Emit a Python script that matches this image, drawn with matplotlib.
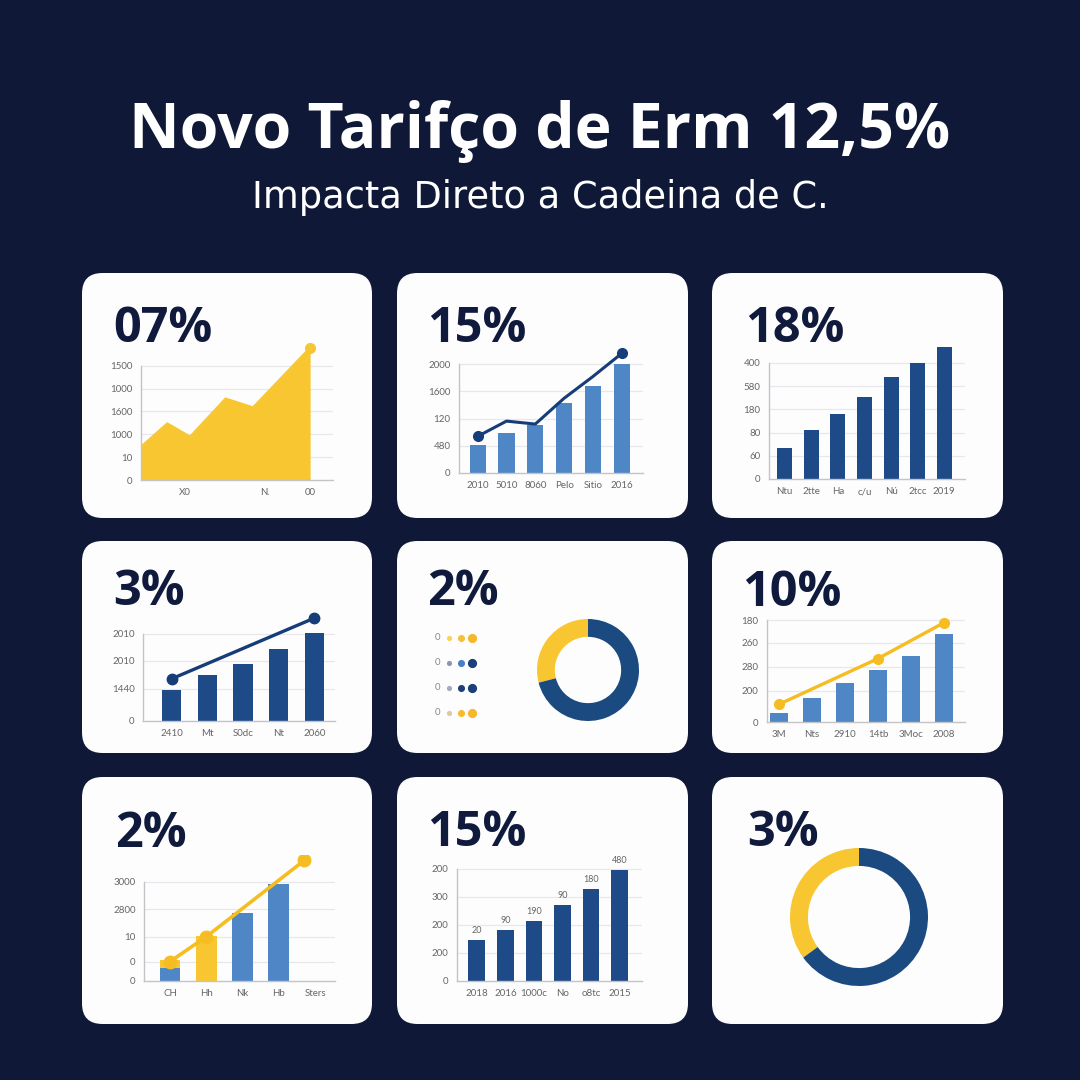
import matplotlib
matplotlib.use("Agg")
import matplotlib.pyplot as plt
from matplotlib.patches import FancyBboxPatch

# -----------------------------
# Data (in axis units)
# -----------------------------
title = "Novo Tarifço de Erm 12,5%"
subtitle = "Impacta Direto a Cadeina de C."
headline_pcts = ["07%", "15%", "18%", "3%", "2%", "10%", "2%", "15%", "3%"]

# panel 1: yellow area
p1_x = [0, 1.15, 2.15, 3.7, 4.9, 7.4]
p1_y = [1.46, 2.48, 1.9, 3.57, 3.18, 5.8]
p1_xticks = [1.92, 5.42, 7.39]
p1_xlabels = ["X0", "N.", "00"]
p1_ylabels = ["0", "10", "1000", "1600", "1000", "1500"]

# panel 2: bars + navy line
p2_bars = [1.02, 1.48, 1.78, 2.56, 3.2, 4.0]
p2_line = [1.35, 1.91, 1.80, 2.75, 3.55, 4.4]
p2_xlabels = ["2010", "5010", "8060", "Pelo", "Sitio", "2016"]
p2_ylabels = ["0", "480", "120", "1600", "2000"]

# panel 3: navy bars
p3_bars = [1.32, 2.09, 2.82, 3.54, 4.41, 5.0, 5.69]
p3_xlabels = ["Ntu", "2tte", "Ha", "c/u", "Nú", "2tcc", "2019"]
p3_ylabels = ["0", "60", "80", "180", "580", "400"]

# panel 4: navy bars + trend line
p4_bars = [1.05, 1.57, 1.97, 2.47, 3.02]
p4_line_x = [0, 4]
p4_line_y = [1.45, 3.54]
p4_xlabels = ["2410", "Mt", "S0dc", "Nt", "2060"]
p4_yticks = [0, 1.11, 2.08, 3.0]
p4_ylabels = ["0", "1440", "2010", "2010"]

# panel 5: dot legend + donut
p5_rows = ["0", "0", "0", "0"]
p5_donut = [29, 71]

# panel 6: blue bars + yellow line
p6_bars = [0.39, 1.01, 1.61, 2.18, 2.76, 3.65]
p6_line_x = [0, 3, 5]
p6_line_y = [0.74, 2.64, 4.13]
p6_xlabels = ["3M", "Nts", "2910", "14tb", "3Moc", "2008"]
p6_yticks = [0, 1.29, 2.29, 3.29, 4.24]
p6_ylabels = ["0", "200", "280", "260", "180"]

# panel 7: stacked first bar, yellow line
p7_blue = [0.49, 0, 2.48, 3.54]
p7_yellow = [0.28, 1.65, 0, 0]
p7_line_x = [0, 1, 3.7]
p7_line_y = [0.71, 1.62, 4.40]
p7_xlabels = ["CH", "Hh", "Nk", "Hb", "Sters"]
p7_yticks = [0, 0.71, 1.62, 2.62, 3.63]
p7_ylabels = ["0", "0", "10", "2800", "3000"]

# panel 8: navy bars with value labels
p8_bars = [1.46, 1.83, 2.15, 2.71, 3.30, 3.98]
p8_values = ["20", "90", "190", "90", "180", "480"]
p8_xlabels = ["2018", "2016", "1000c", "No", "o8tc", "2015"]
p8_ylabels = ["0", "200", "200", "300", "200"]

# panel 9: donut
p9_donut = [35, 65]

# -----------------------------
# Styling
# -----------------------------
BG = "#0f1836"
CARD = "#fdfdfe"
NAVY_TXT = "#0f1a3c"
YELLOW = "#f8c630"
BLUE = "#4f87c6"
NAVY = "#1e4a88"
LINE_NAVY = "#163d78"
DONUT_NAVY = "#1a4a80"
TICK = "#666666"
GRID = "#e8e8ec"
SPINE = "#c4c4c8"
FONT = "Lato"
HEAD_FONT = "Open Sans"

W = 1080
fig = plt.figure(figsize=(10.8, 10.8), dpi=100, facecolor=BG)


def fx(x):
    return x / W


def fy(y):
    return 1 - y / W


def px_axes(x0, y0, x1, y1):
    a = fig.add_axes([fx(x0), fy(y1), (x1 - x0) / W, (y1 - y0) / W])
    a.set_zorder(2)
    return a


def style_axes(ax, yticks, ylabels, ytop=None):
    ax.set_facecolor("none")
    for s in ["top", "right"]:
        ax.spines[s].set_visible(False)
    ax.spines["left"].set_color(SPINE)
    ax.spines["bottom"].set_color(SPINE)
    ax.spines["left"].set_linewidth(1)
    ax.spines["bottom"].set_linewidth(1)
    if ytop is not None:
        ax.spines["left"].set_bounds(0, ytop)
    ax.set_yticks(yticks)
    ax.set_yticklabels(ylabels)
    ax.tick_params(length=0, labelsize=7, labelcolor=TICK, pad=6)
    for t in yticks[1:]:
        ax.axhline(t, color=GRID, lw=0.9, zorder=0)
    for lab in ax.get_xticklabels() + ax.get_yticklabels():
        lab.set_fontfamily(FONT)


def donut(ax, values, width):
    ax.pie(values, colors=[YELLOW, DONUT_NAVY], startangle=90, counterclock=True,
           radius=1, wedgeprops=dict(width=width, edgecolor="none"))
    ax.set_xlim(-1, 1)
    ax.set_ylim(-1, 1)
    ax.set_aspect("equal")


# title
fig.text(0.5, fy(148), title, ha="center", va="baseline", color="white",
         fontsize=45, fontweight="bold", family=HEAD_FONT)
fig.text(0.5, fy(208), subtitle, ha="center", va="baseline", color="white",
         fontsize=26.5, family="DejaVu Sans")

# cards
cols = [(82, 372), (397, 688), (712, 1003)]
rows = [(273, 518), (541, 753), (777, 1024)]
for (y0, y1) in rows:
    for (x0, x1) in cols:
        card = FancyBboxPatch((fx(x0), fy(y1)), (x1 - x0) / W, (y1 - y0) / W,
                              boxstyle="round,pad=0,rounding_size=0.019",
                              transform=fig.transFigure, facecolor=CARD,
                              edgecolor="none", zorder=-1)
        fig.patches.append(card)

# headline percentages
head_pos = [(113, 342), (427, 342), (745, 342),
            (113, 605), (427, 605), (742, 606),
            (115, 847), (427, 846), (747, 846)]
for (x, y), txt in zip(head_pos, headline_pcts):
    fig.text(fx(x), fy(y), txt, ha="left", va="baseline", color=NAVY_TXT,
             fontsize=35, fontweight="bold", family=HEAD_FONT, zorder=3)

# -----------------------------
# Panel 1: area chart
# -----------------------------
ax = px_axes(141, 343, 333, 480)
ax.fill_between(p1_x, p1_y, 0, color=YELLOW, lw=0, zorder=2)
ax.plot(p1_x, p1_y, color=YELLOW, lw=1.5, zorder=3)
ax.plot(p1_x[-1], p1_y[-1], "o", color=YELLOW, ms=7, zorder=4)
ax.set_xlim(0, 8.4)
ax.set_ylim(0, 6.0)
ax.set_xticks(p1_xticks)
ax.set_xticklabels(p1_xlabels)
style_axes(ax, list(range(6)), p1_ylabels, ytop=5)

# -----------------------------
# Panel 2: bars + navy line
# -----------------------------
ax = px_axes(459, 348, 643, 473)
xs = list(range(len(p2_bars)))
ax.bar(xs, p2_bars, width=0.56, color=BLUE, zorder=2)
ax.plot(xs, p2_line, color=LINE_NAVY, lw=2.2, zorder=3, solid_capstyle="round")
ax.plot([xs[0], xs[-1]], [p2_line[0], p2_line[-1]], "o", color=LINE_NAVY, ms=7, zorder=4)
ax.set_xlim(-0.65, 5.74)
ax.set_ylim(0, 4.6)
ax.set_xticks(xs)
ax.set_xticklabels(p2_xlabels)
style_axes(ax, list(range(5)), p2_ylabels, ytop=4)

# -----------------------------
# Panel 3: navy bars
# -----------------------------
ax = px_axes(769, 342, 965, 479)
xs = list(range(len(p3_bars)))
ax.bar(xs, p3_bars, width=0.56, color=NAVY, zorder=2)
ax.set_xlim(-0.59, 6.78)
ax.set_ylim(0, 5.9)
ax.set_xticks(xs)
ax.set_xticklabels(p3_xlabels)
style_axes(ax, list(range(6)), p3_ylabels, ytop=5)

# -----------------------------
# Panel 4: navy bars + line
# -----------------------------
ax = px_axes(143, 612, 335, 721)
xs = list(range(len(p4_bars)))
ax.bar(xs, p4_bars, width=0.54, color=NAVY, zorder=2)
ax.plot(p4_line_x, p4_line_y, color=LINE_NAVY, lw=2.4, marker="o", ms=7.5, zorder=3)
ax.set_xlim(-0.8, 4.58)
ax.set_ylim(0, 3.75)
ax.set_xticks(xs)
ax.set_xticklabels(p4_xlabels)
style_axes(ax, p4_yticks, p4_ylabels, ytop=3)

# -----------------------------
# Panel 5: dot legend + donut
# -----------------------------
dot_colors = [["#f9d25a", "#f6c232", "#f5b82a"],
              ["#8a97ad", "#4a7fc0", "#1b3f78"],
              ["#a3aaba", "#1f3f7a", "#1b3f78"],
              ["#dcc9a0", "#f5bd2c", "#f5b82a"]]
dot_sizes = [14, 26, 44]
ax = px_axes(430, 625, 490, 725)
for i, lab in enumerate(p5_rows):
    yy = -i
    ax.text(0, yy, lab, ha="center", va="center", fontsize=7, color="#888888", family=FONT)
    for j in range(3):
        ax.scatter(1 + j, yy, s=dot_sizes[j], color=dot_colors[i][j], lw=0)
ax.set_xlim(-0.6, 4.5)
ax.set_ylim(-3.5, 0.5)
ax.axis("off")

ax = px_axes(537, 619, 639, 721)
donut(ax, p5_donut, 0.35)

# -----------------------------
# Panel 6: blue bars + yellow line
# -----------------------------
ax = px_axes(767, 615, 965, 722)
xs = list(range(len(p6_bars)))
ax.bar(xs, p6_bars, width=0.53, color=BLUE, zorder=2)
ax.plot(p6_line_x, p6_line_y, color="#f6bd22", lw=2.4, marker="o", ms=7, zorder=3)
ax.set_xlim(-0.37, 5.64)
ax.set_ylim(0, 4.45)
ax.set_xticks(xs)
ax.set_xticklabels(p6_xlabels)
style_axes(ax, p6_yticks, p6_ylabels, ytop=4.24)

# -----------------------------
# Panel 7: bars + yellow line
# -----------------------------
ax = px_axes(144, 855, 335, 981)
xs = list(range(len(p7_blue)))
ax.bar(xs, p7_blue, width=0.57, color=BLUE, zorder=2)
ax.bar(xs, p7_yellow, bottom=p7_blue, width=0.57, color=YELLOW, zorder=2)
ax.plot(p7_line_x, p7_line_y, color="#f6bd22", lw=2.6, marker="o", ms=9, zorder=3)
ax.set_xlim(-0.72, 4.55)
ax.set_ylim(0, 4.6)
ax.set_xticks(list(range(len(p7_xlabels))))
ax.set_xticklabels(p7_xlabels)
style_axes(ax, p7_yticks, p7_ylabels, ytop=3.63)

# -----------------------------
# Panel 8: navy bars with labels
# -----------------------------
ax = px_axes(457, 855, 642, 981)
xs = list(range(len(p8_bars)))
ax.bar(xs, p8_bars, width=0.58, color=NAVY, zorder=2)
for x, v, lab in zip(xs, p8_bars, p8_values):
    ax.text(x, v + 0.18, lab, ha="center", va="bottom", fontsize=6.5,
            color=TICK, family=FONT)
ax.set_xlim(-0.69, 5.78)
ax.set_ylim(0, 4.5)
ax.set_xticks(xs)
ax.set_xticklabels(p8_xlabels)
style_axes(ax, list(range(5)), p8_ylabels, ytop=4)

# -----------------------------
# Panel 9: donut
# -----------------------------
ax = px_axes(790, 848, 928, 986)
donut(ax, p9_donut, 0.26)

fig.savefig("out.png", dpi=100, facecolor=BG)
